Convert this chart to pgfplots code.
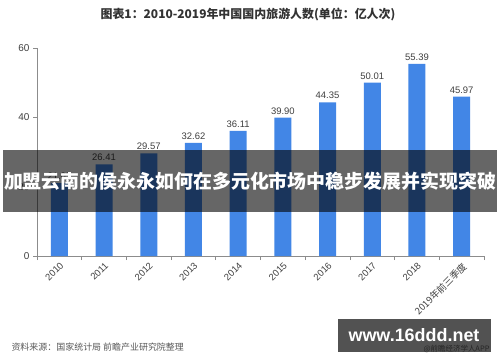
\documentclass[border=0pt]{standalone}
\usepackage{pgfplots}
\pgfplotsset{compat=1.18}
\usepackage{graphicx}
\usepackage{fontspec}
\setmainfont{Liberation Sans}
\newfontfamily\cjk{Noto Sans CJK SC}
\definecolor{barblue}{HTML}{4286E6}
\definecolor{axgray}{HTML}{8C8C8C}
\definecolor{labgray}{HTML}{404040}
\begin{document}
\begin{tikzpicture}[x=1bp,y=1bp]
\path[fill=white] (0,0) rectangle (500,362);
\node[font=\cjk\bfseries\fontsize{12}{14}\selectfont, text=black!80] at (248,347) {图表1：2010-2019年中国国内旅游人数(单位：亿人次)};
\begin{axis}[
  at={(37bp,106bp)}, anchor=south west,
  scale only axis, width=447bp, height=208bp,
  xmin=-0.5, xmax=9.5, ymin=0, ymax=60,
  axis x line*=bottom, axis y line*=left,
  axis line style={axgray, line width=0.8pt},
  ytick={0,20,40,60},
  xtick={0,...,9},
  xticklabels={2010,2011,2012,2013,2014,2015,2016,2017,2018,{\cjk 2019年前三季度}},
  x tick label style={rotate=45, anchor=north east, font=\fontsize{9.5}{11}\selectfont, text=labgray, inner sep=1pt},
  y tick label style={font=\fontsize{10}{12}\selectfont, text=labgray},
  /pgf/number format/assume math mode=true,
  major x tick style={draw=none},
  minor xtick={-0.5,0.5,...,9.5},
  minor tick length=4bp, major tick length=4bp,
  tick style={axgray, line width=0.8pt},
  tick align=outside,
  every minor tick/.style={axgray, line width=0.8pt},
  ybar, bar width=17bp,
  nodes near coords,
  nodes near coords style={font=\fontsize{9.5}{11}\selectfont, text=labgray, /pgf/number format/fixed, /pgf/number format/fixed zerofill, /pgf/number format/precision=2, /pgf/number format/assume math mode=true},
  clip=false,
]
\addplot[fill=barblue, draw=none] coordinates {
(0,21.03) (1,26.41) (2,29.57) (3,32.62) (4,36.11) (5,39.90) (6,44.35) (7,50.01) (8,55.39) (9,45.97)};
\end{axis}
\node[anchor=west, font=\cjk\fontsize{9}{10}\selectfont, text=black!65] at (8,15) {资料来源：国家统计局 前瞻产业研究院整理};
\node[anchor=east, font=\cjk\fontsize{7.5}{8}\selectfont, text=black!55] at (493,13) {@前瞻经济学人APP};
\fill[black, opacity=0.6] (3,150) rectangle (497,212);
\node[text=white, inner sep=0] at (250,181) {\resizebox{492bp}{!}{\cjk\bfseries\fontsize{20}{22}\selectfont 加盟云南的侯永永如何在多元化市场中稳步发展并实现突破}};
\fill[black, opacity=0.68] (338,10) rectangle (491,43);
\node[font=\bfseries\fontsize{18}{20}\selectfont, text=white] at (414,26.5) {www.16ddd.net};
\pgfresetboundingbox
\path[use as bounding box] (0,0) rectangle (500,362);
\end{tikzpicture}
\end{document}
